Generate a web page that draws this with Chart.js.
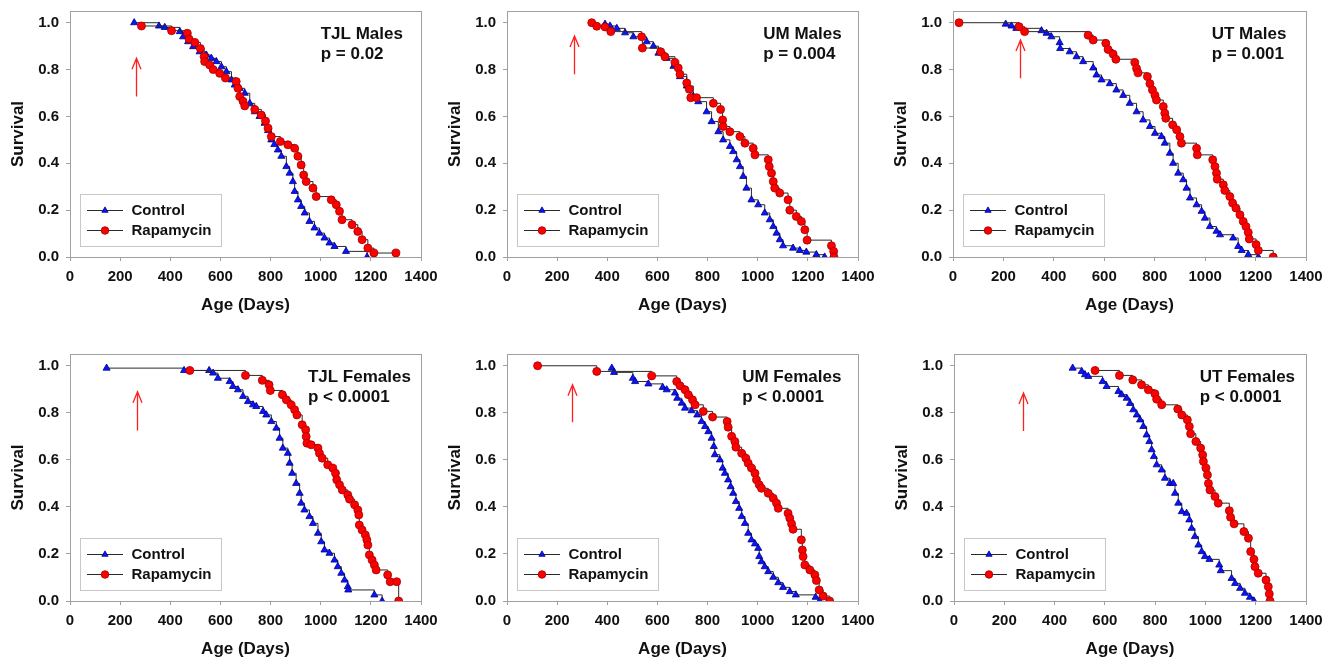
<!DOCTYPE html>
<html><head><meta charset="utf-8">
<script src="https://cdn.jsdelivr.net/npm/chart.js@4.4.1/dist/chart.umd.min.js"></script>
<style>
html,body{margin:0;padding:0;background:#fff;}
#wrap{position:relative;width:1333px;height:659px;overflow:hidden;background:#fff;}
canvas{position:absolute;}
</style></head><body><div id="wrap"></div>
<script>
// ---- axis ticks ----
const xTicks = [0, 200, 400, 600, 800, 1000, 1200, 1400];
const yTicks = [0, 0.2, 0.4, 0.6, 0.8, 1.0];

// ---- panel labels ----
const panelNames = ['TJL Males', 'UM Males', 'UT Males', 'TJL Females', 'UM Females', 'UT Females'];
const pValues = ['p = 0.02', 'p = 0.004', 'p = 0.001', 'p < 0.0001', 'p < 0.0001', 'p < 0.0001'];
const seriesNames = ['Control', 'Rapamycin'];

// ---- arrow (start of treatment) ----
const arrowAge = [263, 269, 267, 268, 261, 273];
const arrowTail = [0.685, 0.78, 0.763, 0.725, 0.76, 0.723];
const arrowTip = [0.848, 0.943, 0.926, 0.89, 0.919, 0.884];

// ---- TJL Males ----
const tjlMaleCtrlAge = [256,355,378,438,451,471,491,517,544,564,584,604,624,644,657,677,697,717,737,756,776,790,803,815,829,843,863,876,889,896,909,922,936,955,975,995,1015,1035,1055,1101,1185];
const tjlMaleCtrlSurv = [1.0,0.986,0.98,0.962,0.94,0.919,0.898,0.876,0.862,0.848,0.834,0.812,0.791,0.756,0.734,0.72,0.699,0.656,0.62,0.60,0.571,0.54,0.50,0.48,0.457,0.43,0.386,0.358,0.322,0.28,0.244,0.216,0.188,0.152,0.124,0.102,0.081,0.06,0.045,0.024,0];
const tjlMaleRapaAge = [285,405,468,475,498,520,535,537,557,571,597,620,663,670,677,690,697,737,763,780,790,803,839,869,896,909,922,932,942,969,982,1042,1062,1075,1085,1125,1148,1165,1188,1212,1300];
const tjlMaleRapaSurv = [0.986,0.966,0.955,0.93,0.916,0.89,0.855,0.834,0.82,0.80,0.784,0.764,0.749,0.72,0.685,0.665,0.645,0.63,0.606,0.58,0.55,0.514,0.493,0.479,0.464,0.43,0.393,0.35,0.322,0.294,0.258,0.244,0.223,0.195,0.159,0.138,0.109,0.074,0.038,0.017,0.017];

// ---- UM Males ----
const umMaleCtrlAge = [391,411,438,471,504,557,584,604,637,664,690,717,743,763,796,816,843,862,889,902,916,929,942,955,975,1002,1028,1048,1062,1075,1088,1101,1141,1168,1194,1234,1267];
const umMaleCtrlSurv = [0.994,0.986,0.976,0.957,0.94,0.919,0.90,0.87,0.848,0.814,0.77,0.73,0.686,0.663,0.62,0.578,0.535,0.50,0.472,0.45,0.415,0.386,0.344,0.294,0.244,0.223,0.188,0.159,0.13,0.102,0.074,0.048,0.038,0.028,0.021,0.01,0];
const umMaleRapaAge = [338,358,391,414,537,540,613,630,670,683,690,717,727,733,756,823,852,860,862,889,929,949,982,989,1042,1046,1055,1062,1068,1088,1121,1128,1154,1174,1188,1197,1294,1303,1304];
const umMaleRapaSurv = [1.0,0.985,0.982,0.962,0.94,0.892,0.876,0.855,0.83,0.807,0.78,0.743,0.716,0.68,0.68,0.656,0.63,0.585,0.557,0.535,0.514,0.486,0.464,0.436,0.415,0.386,0.358,0.322,0.294,0.273,0.244,0.2,0.173,0.152,0.116,0.072,0.048,0.024,0];

// ---- UT Males ----
const utMaleCtrlAge = [209,232,251,351,371,390,423,425,463,490,516,556,569,589,622,648,675,701,728,754,781,801,827,840,860,873,893,913,926,940,966,986,999,1019,1045,1059,1111,1131,1145,1171,1211];
const utMaleCtrlSurv = [0.994,0.986,0.976,0.966,0.955,0.94,0.915,0.89,0.876,0.855,0.834,0.807,0.777,0.756,0.74,0.713,0.69,0.656,0.62,0.585,0.557,0.528,0.514,0.486,0.443,0.40,0.358,0.33,0.294,0.252,0.223,0.195,0.166,0.13,0.11,0.095,0.081,0.045,0.028,0.01,0];
const utMaleRapaAge = [24,262,284,536,556,606,615,635,646,721,728,734,771,781,791,801,807,834,840,844,871,887,900,906,966,969,1030,1039,1045,1048,1072,1078,1098,1109,1122,1138,1151,1162,1171,1175,1202,1211,1270];
const utMaleRapaSurv = [1.0,0.983,0.962,0.947,0.926,0.912,0.886,0.866,0.844,0.83,0.805,0.786,0.77,0.74,0.713,0.69,0.67,0.642,0.614,0.592,0.564,0.543,0.514,0.486,0.464,0.436,0.415,0.386,0.358,0.332,0.308,0.284,0.258,0.23,0.209,0.18,0.152,0.13,0.105,0.077,0.053,0.028,0];

// ---- TJL Females ----
const tjlFemCtrlAge = [146,455,555,571,590,637,650,670,690,710,730,743,770,783,803,823,836,849,869,876,886,902,916,922,935,955,969,989,1002,1015,1035,1055,1068,1082,1095,1108,1110,1214,1245];
const tjlFemCtrlSurv = [0.99,0.98,0.98,0.969,0.947,0.933,0.912,0.898,0.87,0.848,0.834,0.827,0.806,0.791,0.763,0.735,0.692,0.65,0.628,0.586,0.543,0.50,0.458,0.416,0.387,0.359,0.33,0.288,0.252,0.217,0.203,0.174,0.146,0.118,0.089,0.061,0.047,0.026,0];
const tjlFemRapaAge = [478,700,767,794,799,847,863,882,896,905,926,940,942,945,962,989,995,1006,1028,1048,1059,1064,1075,1086,1108,1115,1135,1148,1152,1154,1165,1178,1184,1188,1194,1205,1214,1221,1267,1277,1303,1311];
const tjlFemRapaSurv = [0.98,0.959,0.938,0.919,0.895,0.877,0.855,0.834,0.813,0.791,0.749,0.728,0.699,0.671,0.664,0.65,0.628,0.607,0.579,0.565,0.543,0.515,0.494,0.472,0.451,0.433,0.409,0.387,0.366,0.323,0.302,0.281,0.26,0.238,0.196,0.174,0.153,0.132,0.111,0.082,0.082,0];

// ---- UM Females ----
const umFemCtrlAge = [418,427,502,511,564,621,637,670,679,697,710,736,759,776,790,803,816,825,829,849,860,869,882,892,902,913,926,936,949,962,975,989,1002,1006,1015,1028,1042,1062,1082,1101,1128,1152,1231,1247];
const umFemCtrlSurv = [0.99,0.972,0.947,0.933,0.923,0.908,0.898,0.884,0.862,0.841,0.82,0.809,0.791,0.763,0.742,0.72,0.692,0.657,0.622,0.60,0.565,0.543,0.515,0.486,0.458,0.423,0.394,0.359,0.33,0.288,0.26,0.243,0.224,0.189,0.167,0.146,0.125,0.101,0.078,0.058,0.04,0.026,0.016,0];
const umFemRapaAge = [122,358,577,677,690,710,723,740,750,783,820,878,882,896,909,913,936,953,962,975,989,995,1006,1015,1042,1062,1075,1082,1121,1128,1135,1141,1174,1178,1181,1188,1208,1228,1234,1245,1261,1287];
const umFemRapaSurv = [1.0,0.976,0.957,0.933,0.915,0.898,0.877,0.855,0.834,0.806,0.782,0.763,0.739,0.70,0.678,0.654,0.628,0.607,0.586,0.565,0.543,0.515,0.494,0.479,0.458,0.437,0.416,0.394,0.373,0.352,0.328,0.305,0.26,0.217,0.189,0.153,0.132,0.111,0.087,0.047,0.021,0];

// ---- UT Females ----
const utFemCtrlAge = [472,508,521,534,591,607,654,667,687,700,713,727,740,753,766,777,786,795,806,826,839,859,872,879,892,906,925,936,945,958,972,985,998,1016,1055,1061,1104,1118,1138,1157,1177,1193];
const utFemCtrlSurv = [0.99,0.976,0.962,0.955,0.933,0.912,0.891,0.877,0.862,0.84,0.813,0.791,0.77,0.742,0.706,0.678,0.643,0.614,0.579,0.557,0.522,0.50,0.50,0.458,0.416,0.38,0.373,0.345,0.309,0.274,0.238,0.21,0.189,0.177,0.153,0.129,0.096,0.075,0.054,0.033,0.016,0];
const utFemRapaAge = [561,658,711,746,773,799,806,826,890,906,928,936,941,962,981,989,992,1002,1008,1012,1018,1038,1051,1095,1100,1114,1153,1171,1180,1193,1197,1210,1241,1250,1254,1257];
const utFemRapaSurv = [0.98,0.959,0.94,0.919,0.898,0.881,0.858,0.834,0.816,0.791,0.77,0.742,0.711,0.678,0.65,0.621,0.593,0.565,0.536,0.50,0.472,0.444,0.416,0.384,0.356,0.328,0.295,0.267,0.21,0.177,0.146,0.118,0.089,0.061,0.03,0];

// ---- layout (pixel boxes of plot areas, label placement) ----
const FONT = '"Liberation Sans", Arial, Helvetica, sans-serif';
const layoutBoxes = [
  {L:70,  T:11,  R:421,  B:257, labelX:1000},
  {L:507, T:11,  R:858,  B:257, labelX:1022},
  {L:953, T:11,  R:1306, B:257, labelX:1026},
  {L:70,  T:354, R:421,  B:601, labelX:949},
  {L:507, T:354, R:858,  B:601, labelX:938},
  {L:954, T:354, R:1306, B:601, labelX:977}
];
const seriesData = [
  [tjlMaleCtrlAge, tjlMaleCtrlSurv, tjlMaleRapaAge, tjlMaleRapaSurv],
  [umMaleCtrlAge, umMaleCtrlSurv, umMaleRapaAge, umMaleRapaSurv],
  [utMaleCtrlAge, utMaleCtrlSurv, utMaleRapaAge, utMaleRapaSurv],
  [tjlFemCtrlAge, tjlFemCtrlSurv, tjlFemRapaAge, tjlFemRapaSurv],
  [umFemCtrlAge, umFemCtrlSurv, umFemRapaAge, umFemRapaSurv],
  [utFemCtrlAge, utFemCtrlSurv, utFemRapaAge, utFemRapaSurv]
];

const CTRL_FILL = '#0a14ff', CTRL_EDGE = '#000080';
const RAPA_FILL = '#ff0000', RAPA_EDGE = '#a00000';
const LINE_COL = '#2a2a2a';
const FRAME_COL = '#a0a0a0';
const TEXT_COL = '#111111';

function toXY(a, s) { return a.map((v, i) => ({x: v, y: s[i]})); }

function drawMarker(ctx, style, x, y, r, fill, edge) {
  ctx.save();
  ctx.fillStyle = fill; ctx.strokeStyle = edge; ctx.lineWidth = 0.8;
  ctx.beginPath();
  if (style === 'triangle') {
    for (let k = 0; k < 3; k++) {
      const ang = k * 2 * Math.PI / 3;
      const px = x + Math.sin(ang) * r, py = y - Math.cos(ang) * r;
      if (k === 0) ctx.moveTo(px, py); else ctx.lineTo(px, py);
    }
    ctx.closePath();
  } else {
    ctx.arc(x, y, r, 0, Math.PI * 2);
  }
  ctx.fill(); ctx.stroke();
  ctx.restore();
}

const framePlugin = {
  id: 'frame',
  beforeDatasetsDraw(chart) {
    const {ctx, chartArea: a} = chart;
    ctx.save();
    ctx.strokeStyle = FRAME_COL; ctx.lineWidth = 1;
    const l = Math.round(a.left) + 0.5, t = Math.round(a.top) + 0.5;
    const r = Math.round(a.right) + 0.5, b = Math.round(a.bottom) + 0.5;
    ctx.strokeRect(l, t, r - l, b - t);
    ctx.restore();
  }
};

const annotPlugin = {
  id: 'annot',
  afterDatasetsDraw(chart, args, opts) {
    const i = opts.index;
    const {ctx, chartArea: a} = chart;
    const xs = chart.scales.x, ys = chart.scales.y;
    ctx.save();
    // panel label
    ctx.font = 'bold 17px ' + FONT;
    ctx.fillStyle = TEXT_COL;
    ctx.textAlign = 'left'; ctx.textBaseline = 'middle';
    const lx = xs.getPixelForValue(layoutBoxes[i].labelX);
    ctx.fillText(panelNames[i], lx, ys.getPixelForValue(0.95));
    ctx.fillText(pValues[i], lx, ys.getPixelForValue(0.865));
    // arrow
    const ax = Math.round(xs.getPixelForValue(arrowAge[i])) + 0.5;
    const yt = ys.getPixelForValue(arrowTip[i]);
    const yb = ys.getPixelForValue(arrowTail[i]);
    ctx.strokeStyle = '#ff2020'; ctx.lineWidth = 1.3;
    ctx.beginPath();
    ctx.moveTo(ax, yb); ctx.lineTo(ax, yt);
    ctx.moveTo(ax - 4.5, yt + 11); ctx.lineTo(ax, yt); ctx.lineTo(ax + 4.5, yt + 11);
    ctx.stroke();
    // legend
    const bx = Math.round(a.left + 10) + 0.5, by = Math.round(a.bottom - 63) + 0.5;
    ctx.fillStyle = '#ffffff';
    ctx.fillRect(bx, by, 141, 52);
    ctx.strokeStyle = '#c8c8c8'; ctx.lineWidth = 1;
    ctx.strokeRect(bx, by, 141, 52);
    const rows = [a.bottom - 46.5, a.bottom - 26.5];
    const styles = [['triangle', CTRL_FILL, CTRL_EDGE, 3.6], ['circle', RAPA_FILL, RAPA_EDGE, 3.8]];
    rows.forEach((ry, k) => {
      ctx.strokeStyle = LINE_COL; ctx.lineWidth = 1;
      ctx.beginPath(); ctx.moveTo(a.left + 17, ry); ctx.lineTo(a.left + 53, ry); ctx.stroke();
      drawMarker(ctx, styles[k][0], a.left + 35, ry, styles[k][3], styles[k][1], styles[k][2]);
      ctx.font = 'bold 15px ' + FONT;
      ctx.fillStyle = TEXT_COL; ctx.textAlign = 'left'; ctx.textBaseline = 'middle';
      ctx.fillText(seriesNames[k], a.left + 61.5, ry + 0.5);
    });
    ctx.restore();
  }
};

const wrap = document.getElementById('wrap');
const PAD_TOP = 10, Y_W = 70, PAD_R = 26, X_H = 62;

layoutBoxes.forEach((box, i) => {
  const c = document.createElement('canvas');
  const w = (box.R - box.L) + Y_W + PAD_R;
  const h = (box.B - box.T) + PAD_TOP + X_H;
  c.width = w; c.height = h;
  c.style.width = w + 'px'; c.style.height = h + 'px';
  c.style.left = (box.L - Y_W) + 'px'; c.style.top = (box.T - PAD_TOP) + 'px';
  wrap.appendChild(c);
  const d = seriesData[i];
  new Chart(c, {
    type: 'line',
    data: {
      datasets: [
        {label: seriesNames[0], data: toXY(d[0], d[1]), stepped: true, borderColor: LINE_COL, borderWidth: 1,
         pointStyle: 'triangle', pointRadius: 4.1, pointBackgroundColor: CTRL_FILL, pointBorderColor: CTRL_EDGE,
         pointBorderWidth: 0.8, fill: false, order: 2},
        {label: seriesNames[1], data: toXY(d[2], d[3]), stepped: true, borderColor: LINE_COL, borderWidth: 1,
         pointStyle: 'circle', pointRadius: 4, pointBackgroundColor: RAPA_FILL, pointBorderColor: RAPA_EDGE,
         pointBorderWidth: 0.8, fill: false, order: 1}
      ]
    },
    options: {
      responsive: false, animation: false, devicePixelRatio: 1,
      layout: {padding: {top: PAD_TOP, left: 0, right: PAD_R, bottom: 0}},
      plugins: {legend: {display: false}, tooltip: {enabled: false}, annot: {index: i}},
      scales: {
        x: {
          type: 'linear', min: 0, max: 1400,
          afterBuildTicks(ax) { ax.ticks = xTicks.map(v => ({value: v})); },
          afterFit(ax) { ax.height = X_H; ax.paddingLeft = 0; ax.paddingRight = 0; },
          ticks: {callback: v => String(v), color: TEXT_COL, padding: 7, maxRotation: 0, autoSkip: false,
                  font: {family: FONT, size: 15, weight: 'bold'}},
          grid: {drawOnChartArea: false, drawTicks: true, tickLength: 4, color: FRAME_COL},
          border: {display: false},
          title: {display: true, text: 'Age (Days)', color: TEXT_COL, font: {family: FONT, size: 17, weight: 'bold'},
                  padding: {top: 0, bottom: 3}}
        },
        y: {
          type: 'linear', min: 0, max: 1.05,
          afterBuildTicks(ax) { ax.ticks = yTicks.map(v => ({value: v})); },
          afterFit(ax) { ax.width = Y_W; ax.paddingTop = 0; ax.paddingBottom = 0; },
          ticks: {callback: v => Number(v).toFixed(1), color: TEXT_COL, padding: 7, autoSkip: false,
                  font: {family: FONT, size: 15, weight: 'bold'}},
          grid: {drawOnChartArea: false, drawTicks: true, tickLength: 4, color: FRAME_COL},
          border: {display: false},
          title: {display: true, text: 'Survival', color: TEXT_COL, font: {family: FONT, size: 17, weight: 'bold'},
                  padding: {top: 8, bottom: 0}}
        }
      }
    },
    plugins: [framePlugin, annotPlugin]
  });
});
</script>
</body></html>
